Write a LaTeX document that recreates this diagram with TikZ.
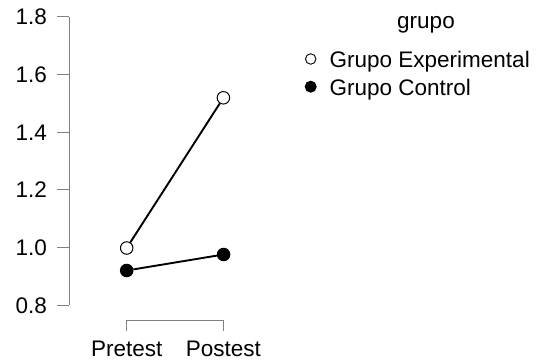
\documentclass[tikz,border=0pt]{standalone}
\usepackage{fontspec}
\setmainfont{Liberation Sans}
\definecolor{axisgray}{RGB}{128,128,128}
\begin{document}
\begin{tikzpicture}[x=1pt,y=1pt,
  lbl/.style={font=\fontsize{22.5}{27}\selectfont, inner sep=0pt},
  axisline/.style={draw=axisgray, line width=1pt},
  openpt/.style={circle, draw=black, fill=white, line width=1pt, inner sep=0pt, minimum size=12.5pt},
  fullpt/.style={circle, draw=black, fill=black, line width=1pt, inner sep=0pt, minimum size=12.5pt},
  legopen/.style={circle, draw=black, fill=white, line width=0.9pt, inner sep=0pt, minimum size=10.5pt},
  legfull/.style={circle, draw=black, fill=black, line width=0.9pt, inner sep=0pt, minimum size=11pt},
  dataline/.style={draw=black, line width=1.9pt}]
\useasboundingbox (0,0) rectangle (540,362);
% y axis
\coordinate (ytop) at (69,345);
\coordinate (ybot) at (69,57);
\draw[axisline] (ytop) -- (ybot);
\foreach \v/\y in {0.8/57, 1.0/114.6, 1.2/172.2, 1.4/229.8, 1.6/287.4, 1.8/345} {
  \draw[axisline] (57,\y) -- (69,\y);
  \node[lbl, anchor=base east] at (47,\y-8) {\v};
}
% x axis bracket
\coordinate (xl) at (126.7,31.5);
\coordinate (xlt) at (126.7,41.5);
\coordinate (xrt) at (223.3,41.5);
\coordinate (xr) at (223.3,31.5);
\draw[axisline] (xl) -- (xlt) -- (xrt) -- (xr);
\node[lbl, anchor=base] (pre) at (126.7,5.3) {Pretest};
\node[lbl, anchor=base] (post) at (223.3,5.3) {Postest};
% data points
\node[openpt] (e1) at (126.7,114) {};
\node[openpt] (e2) at (223.4,264.2) {};
\node[fullpt] (c1) at (126.7,91.5) {};
\node[fullpt] (c2) at (223.6,107.5) {};
\draw[dataline] (e1) -- (e2);
\draw[dataline] (c1) -- (c2);
% legend
\node[lbl, anchor=base] (legtitle) at (426,333.7) {grupo};
\node[legopen] (lo) at (310.7,303) {};
\node[legfull] (lf) at (310.7,275.3) {};
\node[lbl, anchor=base west] (lt1) at (329.5,294.5) {Grupo Experimental};
\node[lbl, anchor=base west] (lt2) at (329.5,266.5) {Grupo Control};
\end{tikzpicture}
\end{document}
